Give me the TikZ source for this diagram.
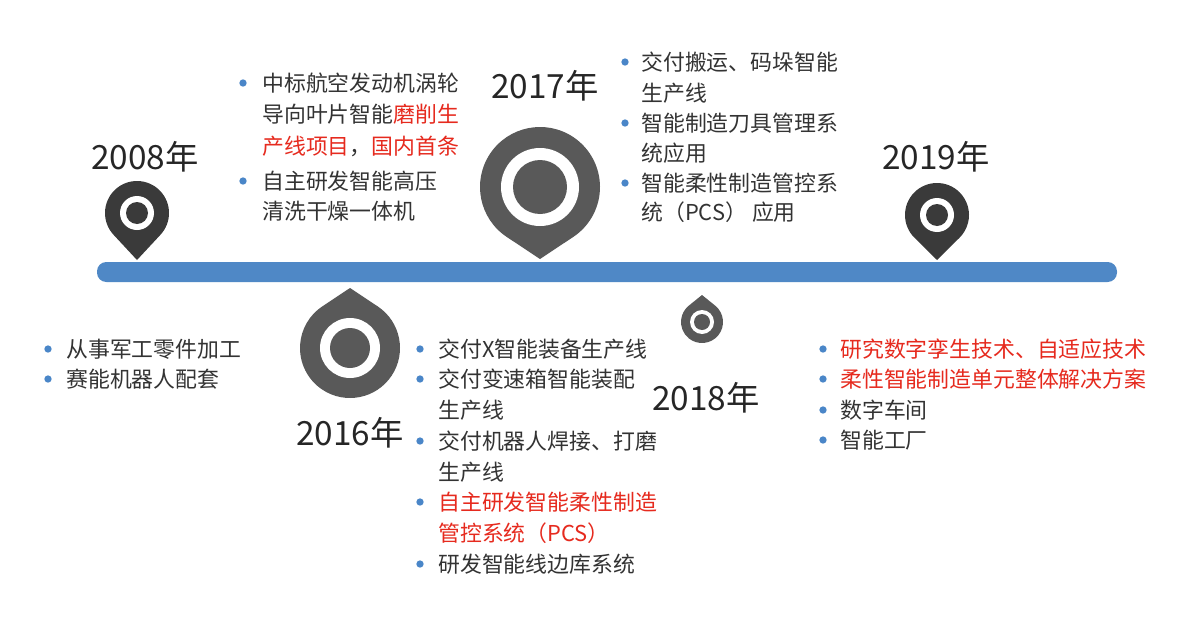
\documentclass[tikz,border=0pt]{standalone}
\usepackage{fontspec}
\setmainfont{Noto Sans CJK SC}
\definecolor{bar}{HTML}{4F88C6}
\definecolor{pindark}{HTML}{3A3A3A}
\definecolor{pingray}{HTML}{595959}
\definecolor{txt}{HTML}{333333}
\definecolor{red}{HTML}{E62A1E}
\definecolor{dot}{HTML}{4A86C8}
\newcommand\mypin[6]{% cx cy r d color startangle(90 down / 270 up)
  \pgfmathsetmacro\al{acos(#3/#4)}
  \pgfmathsetmacro\sa{#6+\al}
  \pgfmathsetmacro\ea{#6+360-\al}
  \fill[#5] ($(#1,#2)+(#6:#4)$) -- ($(#1,#2)+(\sa:#3)$) arc[start angle=\sa,end angle=\ea,radius=#3] -- cycle;
}
\usetikzlibrary{calc}
\tikzset{
  yr/.style={font=\fontsize{25}{28}\selectfont, text=black!85, inner sep=0},
  ln/.style={anchor=west, font=\fontsize{16.4}{18}\selectfont, text=txt, inner sep=0},
  bl/.style={fill=dot, circle, inner sep=0, minimum size=5.5pt}
}
\begin{document}
\begin{tikzpicture}[x=0.75pt,y=-0.75pt]
\useasboundingbox (0,0) rectangle (1200,621);
\fill[white] (0,0) rectangle (1200,621);
% bar
\fill[bar, rounded corners=7pt] (97,262) rectangle (1117,282);
% pins
\mypin{137}{213}{32}{47}{pindark}{90}
\fill[white] (137,213) circle[radius=17]; \fill[pindark] (137,213) circle[radius=11];
\mypin{540}{187}{60}{72}{pingray}{90}
\fill[white] (540,187) circle[radius=39]; \fill[pingray] (540,187) circle[radius=27];
\mypin{937}{215}{32}{45}{pindark}{90}
\fill[white] (937,215) circle[radius=17]; \fill[pindark] (937,215) circle[radius=11];
\mypin{350}{348}{50}{60}{pingray}{270}
\fill[white] (350,348) circle[radius=30]; \fill[pingray] (350,348) circle[radius=20];
\mypin{702}{322}{21}{27}{pingray}{270}
\fill[white] (702,322) circle[radius=12]; \fill[pingray] (702,322) circle[radius=8];
% years
\node[yr] (y2008) at (145,157) {2008年};
\node[yr] (y2017) at (545,86) {2017年};
\node[yr] (y2019) at (936,157) {2019年};
\node[yr] (y2016) at (350,433) {2016年};
\node[yr] (y2018) at (706,398) {2018年};
% top middle
\node[bl] (b1) at (243,83) {}; \node[bl] (b2) at (243,181) {};
\node[ln] (t1) at (262,83) {中标航空发动机涡轮};
\node[ln] (t2) at (262,114) {导向叶片智能\textcolor{red}{磨削生}};
\node[ln] (t3) at (262,146) {\textcolor{red}{产线项目}，\textcolor{red}{国内首条}};
\node[ln] (t4) at (262,181) {自主研发智能高压};
\node[ln] (t5) at (262,211) {清洗干燥一体机};
% 2017 right
\node[bl] at (625,62) {}; \node[bl] at (625,123) {}; \node[bl] at (625,183) {};
\node[ln] at (641,62) {交付搬运、码垛智能};
\node[ln] at (641,93) {生产线};
\node[ln] at (641,123) {智能制造刀具管理系};
\node[ln] at (641,153) {统应用};
\node[ln] at (641,183) {智能柔性制造管控系};
\node[ln] at (641,212) {统（PCS） 应用};
% bottom left
\node[bl] at (48,349) {}; \node[bl] at (48,379) {};
\node[ln] at (66,349) {从事军工零件加工};
\node[ln] at (66,379) {赛能机器人配套};
% bottom middle
\foreach \yy in {349,379,441,502,564} \node[bl] at (420,\yy) {};
\node[ln] at (438,349) {交付X智能装备生产线};
\node[ln] at (438,379) {交付变速箱智能装配};
\node[ln] at (438,410) {生产线};
\node[ln] at (438,441) {交付机器人焊接、打磨};
\node[ln] at (438,472) {生产线};
\node[ln,text=red] at (438,502) {自主研发智能柔性制造};
\node[ln,text=red] at (438,533) {管控系统（PCS）};
\node[ln] at (438,564) {研发智能线边库系统};
% bottom right
\foreach \yy in {349,379,410,440} \node[bl] at (823,\yy) {};
\node[ln,text=red] at (840,349) {研究数字孪生技术、自适应技术};
\node[ln,text=red] at (840,379) {柔性智能制造单元整体解决方案};
\node[ln] at (840,410) {数字车间};
\node[ln] at (840,440) {智能工厂};
\end{tikzpicture}
\end{document}
